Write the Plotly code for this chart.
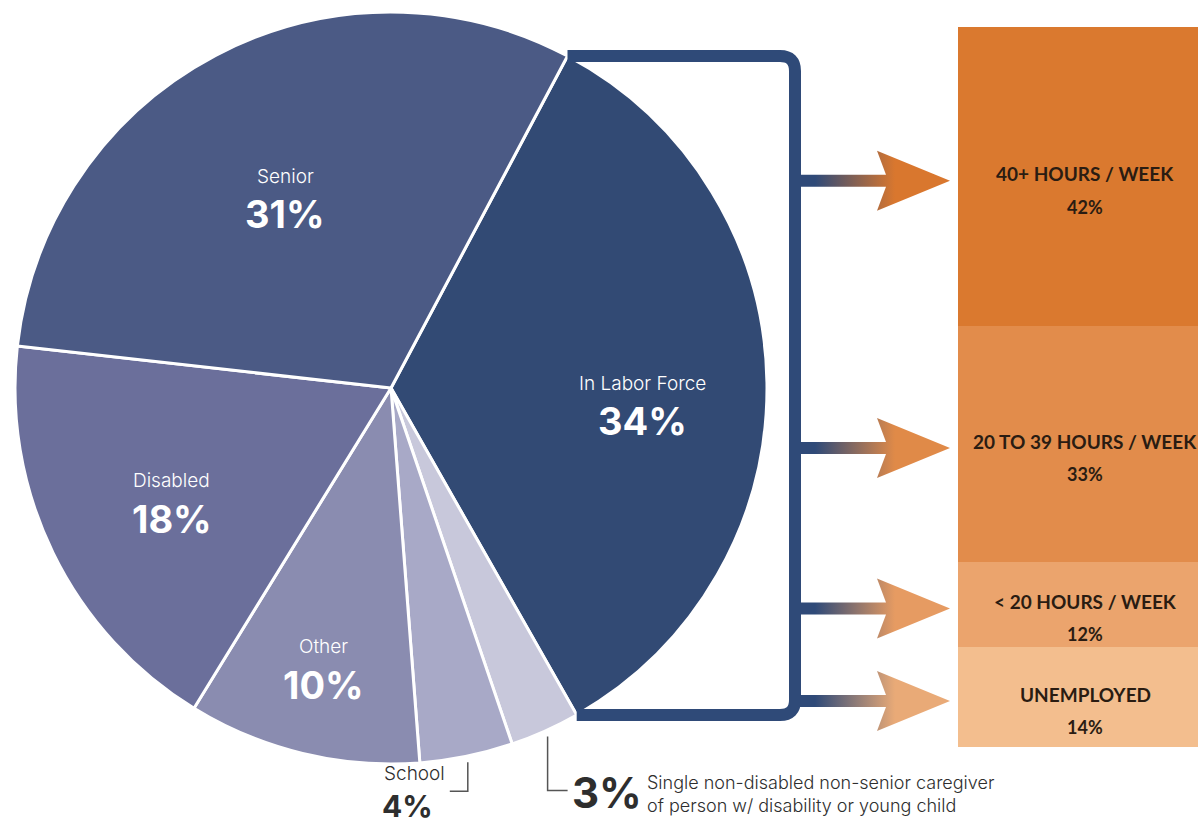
import math
import plotly.graph_objects as go

W, H = 1198, 827

# Main pie: household member status (clockwise, starting at the Senior / Labor Force boundary)
pie_labels = ["In Labor Force", "Caregiver", "School", "Other", "Disabled", "Senior"]
pie_values = [34, 3, 4, 10, 18, 31]
pie_colors = ["#324a74", "#c8c8db", "#a8a9c7", "#8a8cb0", "#6b6f9b", "#4b5a85"]
caregiver_note = ["Single non-disabled non-senior caregiver",
                  "of person w/ disability or young child"]

# Labor force breakdown, stacked bottom to top
work_labels = ["UNEMPLOYED", "< 20 HOURS / WEEK", "20 TO 39 HOURS / WEEK", "40+ HOURS / WEEK"]
work_values = [14, 12, 33, 42]
work_colors = ["#f3be8e", "#eba46d", "#e28c4b", "#da792f"]
arrow_colors = ["#e9aa77", "#e69b62", "#e08a48", "#d9772e"]

NAVY = "#2f4a78"
TEXT_DARK = "#2e2e2e"

# Geometry in pixels
CX, CY, R = 391, 388, 376
ROTATION = 28
BAR_LEFT, BAR_TOP, BAR_BOTTOM = 958, 27, 747
BRACKET_X = 795
# inside-label placement: (fraction of radius, angular nudge in degrees)
LABEL_POS = {"In Labor Force": (0.67, 4), "Other": (0.76, 0),
             "Disabled": (0.655, -1), "Senior": (0.585, -1)}

total = sum(pie_values)


def slice_angle(i, frac=0.5):
    cum = sum(pie_values[:i]) + pie_values[i] * frac
    return math.radians(ROTATION + 360 * cum / total)


def polar(theta, r):
    return CX + r * math.sin(theta), CY - r * math.cos(theta)


fig = go.Figure()

fig.add_trace(go.Pie(
    labels=pie_labels, values=pie_values, sort=False, direction="clockwise",
    rotation=ROTATION, textinfo="none", hoverinfo="label+percent",
    marker=dict(colors=pie_colors, line=dict(color="white", width=3)),
    domain=dict(x=[(CX - R) / W, (CX + R) / W], y=[1 - (CY + R) / H, 1 - (CY - R) / H]),
    showlegend=False,
))

# Stacked bar for the labor force breakdown
bar_total = sum(work_values)
for lab, val, col in zip(work_labels, work_values, work_colors):
    fig.add_trace(go.Bar(
        x=[0], y=[val], width=1, name=lab, marker=dict(color=col, line=dict(width=0)),
        xaxis="x2", yaxis="y2", showlegend=False, hoverinfo="name+y",
    ))


def bar_px(v):
    return BAR_BOTTOM - v / bar_total * (BAR_BOTTOM - BAR_TOP)


annotations = []
shapes = []

# Segment labels and arrows
cum = 0
for lab, val, acol in zip(work_labels, work_values, arrow_colors):
    mid = cum + val / 2
    cum += val
    annotations.append(dict(x=0, y=mid, xref="x2", yref="y2", text=f"<b>{lab}</b>",
                            showarrow=False, xshift=7, yshift=3,
                            font=dict(family="Lato", size=19, color="#2a1c12")))
    annotations.append(dict(x=0, y=mid, xref="x2", yref="y2", text=f"<b>{val}%</b>",
                            showarrow=False, xshift=7, yshift=-30,
                            font=dict(family="Lato", size=18, color="#2a1c12")))
    ay = bar_px(mid) + 4
    ax = [BRACKET_X, 886, 877, 950, 877, 886, BRACKET_X, BRACKET_X]
    ayy = [ay - 6, ay - 6, ay - 30, ay, ay + 30, ay + 6, ay + 6, ay - 6]
    fig.add_trace(go.Scatter(
        x=ax, y=ayy, xaxis="x3", yaxis="y3", mode="lines", fill="toself",
        line=dict(width=0), hoverinfo="skip", showlegend=False,
        fillgradient=dict(type="horizontal", start=815, stop=895,
                          colorscale=[[0, NAVY], [1, acol]]),
    ))

# Bracket around the labor force slice
x0, y0 = polar(slice_angle(0, 0), R)
x1, y1 = polar(slice_angle(0, 1), R)
rc = 15
shapes.append(dict(
    type="path", xref="x3", yref="y3", layer="above",
    path=(f"M {x0:.1f},{y0:.1f} L {BRACKET_X - rc},{y0:.1f} "
          f"Q {BRACKET_X},{y0:.1f} {BRACKET_X},{y0 + rc:.1f} "
          f"L {BRACKET_X},{y1 - rc:.1f} Q {BRACKET_X},{y1:.1f} {BRACKET_X - rc},{y1:.1f} "
          f"L {x1:.1f},{y1:.1f}"),
    line=dict(color=NAVY, width=12),
))

# Labels inside the larger slices
for i, (lab, val) in enumerate(zip(pie_labels, pie_values)):
    if lab not in LABEL_POS:
        continue
    frac, nudge = LABEL_POS[lab]
    lx, ly = polar(slice_angle(i) + math.radians(nudge), frac * R)
    annotations.append(dict(x=lx, y=ly - 19, xref="x3", yref="y3", text=lab, showarrow=False,
                            font=dict(family="Inter", size=19, color="white", weight=300)))
    annotations.append(dict(x=lx, y=ly + 19, xref="x3", yref="y3", text=f"{val}%",
                            showarrow=False,
                            font=dict(family="Inter", size=38, color="white", weight=700)))

# School: leader line and label below the pie
i_s = pie_labels.index("School")
sx, sy = polar(slice_angle(i_s), R + 6)
shapes.append(dict(type="path", xref="x3", yref="y3",
                   path=f"M {sx - 18:.1f},{sy + 29:.1f} L {sx:.1f},{sy + 29:.1f} L {sx:.1f},{sy:.1f}",
                   line=dict(color="#555555", width=1.5)))
annotations.append(dict(x=sx - 22, y=773, xref="x3", yref="y3", text="School",
                        showarrow=False, xanchor="right", borderpad=0,
                        font=dict(family="Inter", size=19, color=TEXT_DARK, weight=300)))
annotations.append(dict(x=sx - 87, y=806, xref="x3", yref="y3", xanchor="left",
                        text=f"{pie_values[i_s]}%", showarrow=False, borderpad=0,
                        font=dict(family="Inter", size=30, color=TEXT_DARK, weight=700)))

# Caregiver: leader line, percentage and note
i_c = pie_labels.index("Caregiver")
gx, gy = polar(slice_angle(i_c), R + 6)
shapes.append(dict(type="path", xref="x3", yref="y3",
                   path=f"M {gx:.1f},{gy:.1f} L {gx:.1f},{gy + 54:.1f} L {gx + 20:.1f},{gy + 54:.1f}",
                   line=dict(color="#555555", width=1.5)))
annotations.append(dict(x=gx + 22, y=gy + 56, xref="x3", yref="y3",
                        text=f"{pie_values[i_c]}%", showarrow=False, xanchor="left",
                        font=dict(family="Inter", size=42, color=TEXT_DARK, weight=700)))
annotations.append(dict(x=gx + 97, y=gy + 58, xref="x3", yref="y3",
                        text="<br>".join(caregiver_note), showarrow=False, xanchor="left",
                        align="left",
                        font=dict(family="Inter", size=18, color=TEXT_DARK, weight=300)))

fig.update_layout(
    width=W, height=H, margin=dict(l=0, r=0, t=0, b=0),
    paper_bgcolor="white", plot_bgcolor="rgba(0,0,0,0)",
    barmode="stack", bargap=0,
    xaxis2=dict(domain=[BAR_LEFT / W, 1], range=[-0.5, 0.5], visible=False,
                anchor="y2", fixedrange=True),
    yaxis2=dict(domain=[1 - BAR_BOTTOM / H, 1 - BAR_TOP / H], range=[0, bar_total],
                visible=False, anchor="x2", fixedrange=True),
    xaxis3=dict(domain=[0, 1], range=[0, W], visible=False, anchor="y3", fixedrange=True),
    yaxis3=dict(domain=[0, 1], range=[H, 0], visible=False, anchor="x3", fixedrange=True),
    xaxis=dict(visible=False), yaxis=dict(visible=False),
    annotations=annotations, shapes=shapes,
)

fig.write_html("out.html")
